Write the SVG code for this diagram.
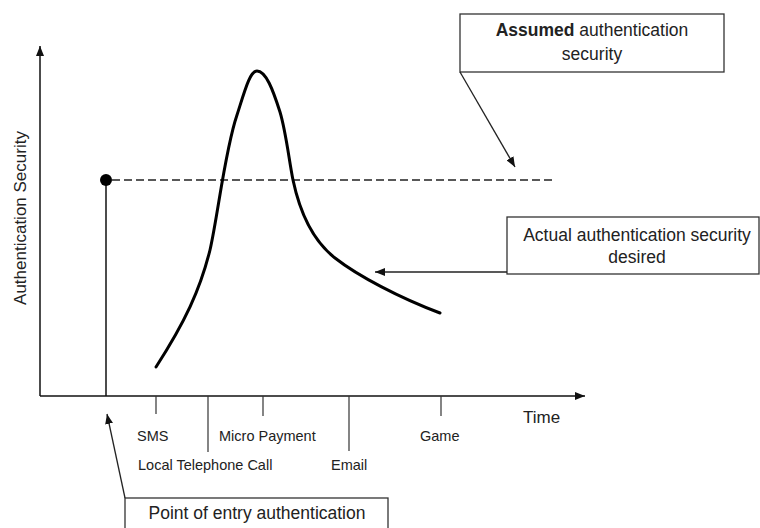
<svg xmlns="http://www.w3.org/2000/svg" width="760" height="528" viewBox="0 0 760 528">
  <style>
    text { font-family: "Liberation Sans", Arial, sans-serif; fill: #222; }
    .box { fill: #fff; stroke: #333; stroke-width: 1.3; }
    .axis { stroke: #111; stroke-width: 1.5; fill: none; }
    .tick { stroke: #333; stroke-width: 1.2; fill: none; }
    .conn { stroke: #222; stroke-width: 1.3; fill: none; }
    .lbl { font-size: 14.5px; }
    .big { font-size: 17.5px; }
  </style>
  <defs>
    <marker id="ah" viewBox="0 0 10 8" refX="10" refY="4" markerWidth="10" markerHeight="8" markerUnits="userSpaceOnUse" orient="auto">
      <path d="M0,0 L10,4 L0,8 Z" fill="#111"/>
    </marker>
  </defs>
  <rect width="760" height="528" fill="#fff"/>

  <g id="axes">
    <line class="axis" x1="40" y1="396" x2="40" y2="46" marker-end="url(#ah)"/>
    <line class="axis" x1="40" y1="396" x2="585" y2="396" marker-end="url(#ah)"/>
    <text x="20" y="218" font-size="17" text-anchor="middle" transform="rotate(-90 20 218)" dy="6">Authentication Security</text>
    <text x="523" y="423" font-size="17">Time</text>
  </g>

  <g id="ticks">
    <line class="tick" x1="156" y1="396" x2="156" y2="414"/>
    <line class="tick" x1="208" y1="396" x2="208" y2="452"/>
    <line class="tick" x1="263" y1="396" x2="263" y2="416"/>
    <line class="tick" x1="349" y1="396" x2="349" y2="451"/>
    <line class="tick" x1="441" y1="396" x2="441" y2="416"/>
  </g>

  <g id="tick-labels">
    <text class="lbl" x="137" y="441">SMS</text>
    <text class="lbl" x="219" y="441">Micro Payment</text>
    <text class="lbl" x="420" y="441">Game</text>
    <text class="lbl" x="138" y="470">Local Telephone Call</text>
    <text class="lbl" x="331" y="470">Email</text>
  </g>

  <g id="entry-point">
    <line class="axis" x1="106" y1="180" x2="106" y2="396"/>
    <line x1="112" y1="180" x2="556" y2="180" stroke="#222" stroke-width="1.3" stroke-dasharray="8,4"/>
    <circle cx="106" cy="180" r="6" fill="#000"/>
  </g>

  <g id="actual-curve">
    <path fill="none" stroke="#000" stroke-width="3" stroke-linecap="round" d="M156,367 C185,322 200,290 210,250 C218,215 225,150 237,115 C245,90 250,71 257,71 C266,71 273,90 280,112 C286,132 289,160 293,180 C300,213 312,240 335,258 C358,276 400,298 440,313"/>
  </g>

  <g id="box-assumed">
    <rect class="box" x="460" y="14" width="264" height="58"/>
    <text class="big" x="592" y="36" text-anchor="middle"><tspan font-weight="bold">Assumed</tspan> authentication</text>
    <text class="big" x="592" y="60" text-anchor="middle">security</text>
  </g>

  <g id="box-actual">
    <rect class="box" x="507" y="217" width="252" height="57"/>
    <text class="big" x="637" y="241" text-anchor="middle">Actual authentication security</text>
    <text class="big" x="637" y="263" text-anchor="middle">desired</text>
  </g>

  <g id="box-entry">
    <rect class="box" x="125" y="498" width="263" height="40"/>
    <text class="big" x="257" y="519" text-anchor="middle">Point of entry authentication</text>
  </g>

  <g id="connectors">
    <line class="conn" x1="460" y1="72" x2="515" y2="167" marker-end="url(#ah)"/>
    <line class="conn" x1="507" y1="272" x2="375" y2="272" marker-end="url(#ah)"/>
    <line class="conn" x1="125" y1="498" x2="107" y2="414" marker-end="url(#ah)"/>
  </g>
</svg>
